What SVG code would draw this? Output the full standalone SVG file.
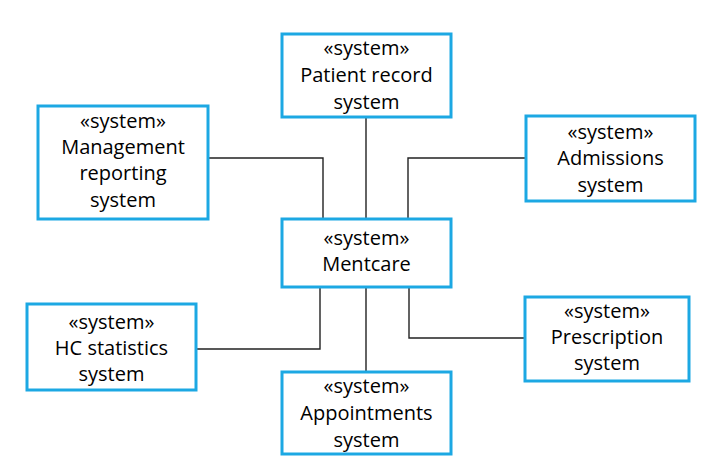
<svg xmlns="http://www.w3.org/2000/svg" width="706" height="463" viewBox="0 0 706 463">
<style>
.box{fill:#fff;stroke:#1ca8e3;stroke-width:3}
.t{font-family:"Open Sans","Liberation Sans",sans-serif;font-size:20px;fill:#000;text-anchor:middle}
.c{fill:none;stroke:#222;stroke-width:1.4}
</style>
<rect width="706" height="463" fill="#fff"/>
<g id="connectors">
<polyline class="c" points="208,158 323,158 323,219"/>
<line class="c" x1="366" y1="117" x2="366" y2="219"/>
<polyline class="c" points="526,158 408,158 408,219"/>
<polyline class="c" points="196,349 320,349 320,287"/>
<line class="c" x1="366" y1="287" x2="366" y2="372"/>
<polyline class="c" points="525,338 409,338 409,287"/>
</g>
<g id="patient">
<rect class="box" x="282" y="34" width="169" height="83"/>
<text class="t" x="366.5" y="55">«system»</text>
<text class="t" x="366.5" y="82">Patient record</text>
<text class="t" x="366.5" y="109">system</text>
</g>
<g id="management">
<rect class="box" x="38" y="106" width="170" height="113"/>
<text class="t" x="123" y="128">«system»</text>
<text class="t" x="123" y="154">Management</text>
<text class="t" x="123" y="180">reporting</text>
<text class="t" x="123" y="207">system</text>
</g>
<g id="admissions">
<rect class="box" x="526" y="116" width="169" height="85"/>
<text class="t" x="610.5" y="139">«system»</text>
<text class="t" x="610.5" y="165">Admissions</text>
<text class="t" x="610.5" y="192">system</text>
</g>
<g id="mentcare">
<rect class="box" x="282" y="219" width="169" height="68"/>
<text class="t" x="366.5" y="245">«system»</text>
<text class="t" x="366.5" y="271">Mentcare</text>
</g>
<g id="hc">
<rect class="box" x="27" y="304" width="169" height="86"/>
<text class="t" x="111.5" y="329">«system»</text>
<text class="t" x="111.5" y="355">HC statistics</text>
<text class="t" x="111.5" y="381">system</text>
</g>
<g id="prescription">
<rect class="box" x="525" y="297" width="164" height="84"/>
<text class="t" x="607" y="318">«system»</text>
<text class="t" x="607" y="344">Prescription</text>
<text class="t" x="607" y="370">system</text>
</g>
<g id="appointments">
<rect class="box" x="282" y="372" width="169" height="82"/>
<text class="t" x="366.5" y="393">«system»</text>
<text class="t" x="366.5" y="420">Appointments</text>
<text class="t" x="366.5" y="447">system</text>
</g>
</svg>
